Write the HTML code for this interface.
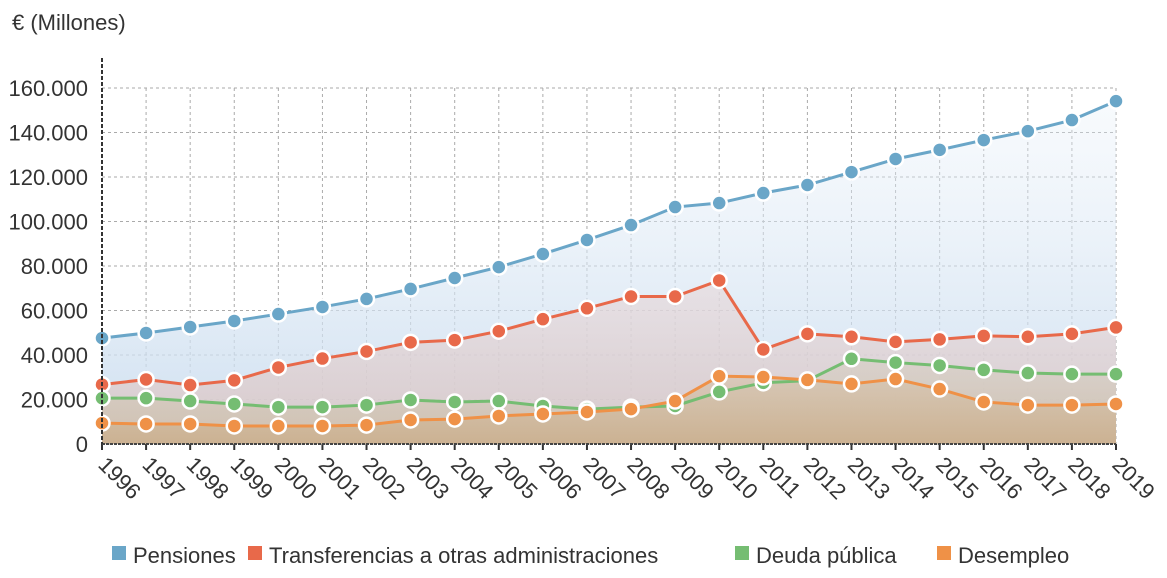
<!DOCTYPE html>
<html><head><meta charset="utf-8"><style>
body{margin:0;background:#fff;font-family:"Liberation Sans",sans-serif;}
svg text{font-family:"Liberation Sans",sans-serif;fill:#333;}
</style></head><body>
<svg id="c" width="1167" height="573">
<defs>
<linearGradient id="gP" x1="0" y1="0" x2="0" y2="1"><stop offset="0" stop-color="#e6eff8" stop-opacity="0.3"/><stop offset="1" stop-color="#c8dbee" stop-opacity="0.9"/></linearGradient>
<linearGradient id="gT" x1="0" y1="0" x2="0" y2="1"><stop offset="0" stop-color="#e8d4d4" stop-opacity="0.5"/><stop offset="1" stop-color="#d9c3c0" stop-opacity="0.8"/></linearGradient>
<linearGradient id="gD" x1="0" y1="0" x2="0" y2="1"><stop offset="0" stop-color="#d5cfc4" stop-opacity="0.6"/><stop offset="1" stop-color="#cdbda7" stop-opacity="0.8"/></linearGradient>
<linearGradient id="gU" x1="0" y1="0" x2="0" y2="1"><stop offset="0" stop-color="#d6c2aa" stop-opacity="0.6"/><stop offset="1" stop-color="#cbb08f" stop-opacity="0.9"/></linearGradient>
</defs>
<text x="12" y="30" font-size="22">€ (Millones)</text>
<g id="grid"></g><g id="areas"></g><g id="lines"></g><g id="axes"></g>
</svg>
<script>
const years=[1996,1997,1998,1999,2000,2001,2002,2003,2004,2005,2006,2007,2008,2009,2010,2011,2012,2013,2014,2015,2016,2017,2018,2019];
const pensiones=[47600,49900,52600,55300,58400,61600,65200,69700,74600,79500,85400,91700,98400,106500,108300,112800,116400,122200,128100,132200,136600,140600,145600,154100];
const transferencias=[26700,29000,26500,28600,34400,38400,41600,45700,46700,50700,56100,61000,66300,66300,73500,42500,49500,48200,45900,47000,48600,48200,49500,52400];
const deuda=[20600,20600,19300,18000,16600,16600,17500,19800,18900,19300,17100,15700,16600,17100,23400,27500,28500,38300,36600,35300,33300,31900,31400,31400];
const desempleo=[9400,9000,9000,8100,8100,8100,8500,10800,11200,12600,13500,14400,15700,19300,30500,30100,28800,27000,29200,24700,18900,17500,17500,18000];
const yTicks=[0,20000,40000,60000,80000,100000,120000,140000,160000];
const tickLabels=["0","20.000","40.000","60.000","80.000","100.000","120.000","140.000","160.000"];
const NS="http://www.w3.org/2000/svg";
const X0=102,X1=1116,Y0=444,Y1=88;
const xs=i=>X0+(X1-X0)*i/(years.length-1);
const ys=v=>Y0-(Y0-Y1)*v/160000;
function mk(t,a,p){const e=document.createElementNS(NS,t);for(const k in a)e.setAttribute(k,a[k]);document.getElementById(p).appendChild(e);return e;}
yTicks.forEach((v,i)=>{
 const l=mk('line',{x1:X0,x2:X1,y1:ys(v),y2:ys(v),stroke:'#aaa','stroke-dasharray':'3,3','stroke-width':1},'grid');
 
 
 const t=mk('text',{x:88,y:ys(v)+8,'text-anchor':'end','font-size':22},'axes');t.textContent=tickLabels[i];
 
 
});
years.forEach((y,i)=>{
 const l=mk('line',{x1:xs(i),x2:xs(i),y1:Y1,y2:Y0,stroke:'#aaa','stroke-dasharray':'3,3','stroke-width':1},'grid');
 
 
 mk('line',{x1:xs(i),x2:xs(i),y1:Y0,y2:Y0+6,stroke:'#333','stroke-width':2},'axes');
 const t=mk('text',{x:xs(i)-5,y:Y0+22,'font-size':22,transform:`rotate(45 ${xs(i)-5} ${Y0+22})`},'axes');t.textContent=y;
 
 
});
const ax=mk('line',{x1:X0,x2:X1,y1:Y0,y2:Y0,stroke:'#444','stroke-width':2,'stroke-dasharray':'3,1'},'axes');


const ay=mk('line',{x1:X0,x2:X0,y1:Y1-30,y2:Y0,stroke:'#333','stroke-width':2,'stroke-dasharray':'4,2'},'axes');


const series=[[pensiones,'#6aa6c8','url(#gP)','pensiones'],[transferencias,'#e8694a','url(#gT)','transferencias'],[deuda,'#75bd72','url(#gD)','deuda-publica'],[desempleo,'#ef9147','url(#gU)','desempleo']];
series.forEach(([d,c,g,n])=>{
 const pts=d.map((v,i)=>xs(i)+','+ys(v)).join(' ');
 const a=mk('polygon',{points:`${X0},${Y0} ${pts} ${X1},${Y0}`,fill:g},'areas');
 
 
 const l=mk('polyline',{points:pts,fill:'none',stroke:c,'stroke-width':3},'lines');
 
 
});
series.forEach(([d,c,g,n])=>{
 d.forEach((v,i)=>{const p=mk('circle',{cx:xs(i),cy:ys(v),r:7.5,fill:c,stroke:'#fff','stroke-width':2.5},'lines');
 
 });
});
const leg=[['Pensiones','#6aa6c8',112],['Transferencias a otras administraciones','#e8694a',248],['Deuda pública','#75bd72',735],['Desempleo','#ef9147',937]];
leg.forEach(([t,c,x])=>{
 const g=mk('g',{},'axes');
 
 
 const r=document.createElementNS(NS,'rect');r.setAttribute('x',x);r.setAttribute('y',546);r.setAttribute('width',14);r.setAttribute('height',14);r.setAttribute('fill',c);g.appendChild(r);
 const tx=document.createElementNS(NS,'text');tx.setAttribute('x',x+21);tx.setAttribute('y',563);tx.setAttribute('font-size',22);tx.textContent=t;g.appendChild(tx);
});
</script>
</body></html>
